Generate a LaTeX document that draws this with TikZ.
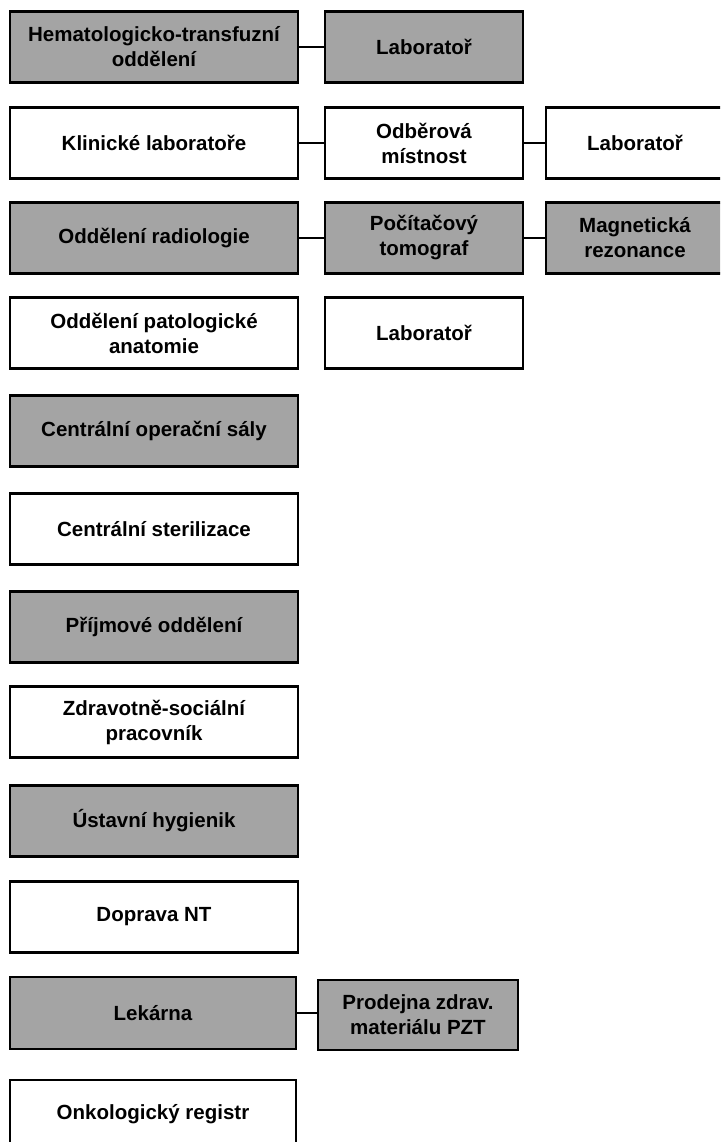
\documentclass[tikz,border=0pt]{standalone}
\usepackage{fontspec}
\setmainfont{Liberation Sans}
\definecolor{boxgray}{RGB}{164,164,164}
\begin{document}
\begin{tikzpicture}[x=1pt,y=-1pt,
  unit/.style={draw=black,line width=2.8pt,rectangle,inner sep=0pt,align=center,
    font=\fontsize{20.5}{25}\selectfont\bfseries,text=black},
  wbox/.style={unit,fill=white},
  gbox/.style={unit,fill=boxgray},
  lcol/.style={minimum width=288pt,minimum height=71pt},
  mcol/.style={minimum width=198pt,minimum height=71pt},
  rcol/.style={minimum width=178pt,minimum height=71pt},
  link/.style={draw=black,line width=2.6pt}]
\useasboundingbox (0,0) rectangle (720,1142);
\clip (0,0) rectangle (720,1142);
\fill[white] (0,0) rectangle (720,1142);
% row 1
\node[gbox,lcol] (hem) at (154,47) {Hematologicko-transfuzní\\oddělení};
\node[gbox,mcol] (lab1) at (424,47) {Laboratoř};
% row 2
\node[wbox,lcol] (klin) at (154,143) {Klinické laboratoře};
\node[wbox,mcol] (odb) at (424,143) {Odběrová\\místnost};
\node[wbox,rcol] (lab2) at (635,143) {Laboratoř};
% row 3
\node[gbox,lcol] (rad) at (154,238) {Oddělení radiologie};
\node[gbox,mcol] (ct) at (424,238) {Počítačový\\tomograf};
\node[gbox,rcol] (mr) at (635,238) {Magnetická\\rezonance};
% row 4
\node[wbox,lcol] (pat) at (154,333) {Oddělení patologické\\anatomie};
\node[wbox,mcol] (lab3) at (424,333) {Laboratoř};
% column
\node[gbox,lcol] (cos) at (154,431) {Centrální operační sály};
\node[wbox,lcol] (cst) at (154,529) {Centrální sterilizace};
\node[gbox,lcol] (prij) at (154,627) {Příjmové oddělení};
\node[wbox,lcol] (zdr) at (154,722) {Zdravotně-sociální\\pracovník};
\node[gbox,lcol] (hyg) at (154,821) {Ústavní hygienik};
\node[wbox,lcol] (dop) at (154,917) {Doprava NT};
\node[gbox,minimum width=286pt,minimum height=72pt] (lek) at (153,1013) {Lekárna};
\node[gbox,minimum width=200pt,minimum height=70pt] (pzt) at (418,1015) {Prodejna zdrav.\\materiálu PZT};
\node[wbox,minimum width=286pt,minimum height=68pt] (onk) at (153,1114) {Onkologický registr};
% connectors
\draw[link] (hem.east) -- (lab1.west);
\draw[link] (klin.east) -- (odb.west);
\draw[link] (odb.east) -- (lab2.west);
\draw[link] (rad.east) -- (ct.west);
\draw[link] (ct.east) -- (mr.west);
\draw[link] (lek.east) -- (pzt.west |- lek.east);
\end{tikzpicture}
\end{document}
